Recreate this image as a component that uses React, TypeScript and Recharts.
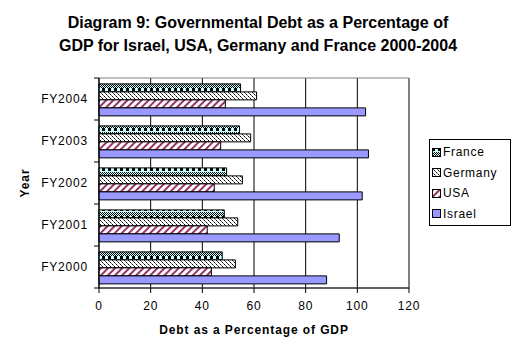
import React from "react";
import {
  Bar,
  BarChart,
  CartesianGrid,
  ReferenceArea,
  XAxis,
  YAxis,
} from "recharts";

const years = ["FY2000", "FY2001", "FY2002", "FY2003", "FY2004"];
const france = [47.7, 48.5, 49.4, 54.4, 54.8];
const germany = [52.8, 53.7, 55.5, 58.7, 61.0];
const usa = [43.5, 41.9, 44.6, 47.1, 48.9];
const israel = [88.1, 93.0, 101.9, 104.3, 103.2];
const xTicks = [0, 20, 40, 60, 80, 100, 120];

const series = [
  { key: "France", fill: "url(#patFrance)" },
  { key: "Germany", fill: "url(#patGermany)" },
  { key: "USA", fill: "url(#patUsa)" },
  { key: "Israel", fill: "#9999ff" },
];

const data = years.map((year, i) => ({
  year,
  France: france[i],
  Germany: germany[i],
  USA: usa[i],
  Israel: israel[i],
}));

const W = 519;
const H = 356;
const PLOT_TOP = 78;
const PLOT_BOTTOM = 288;
const PLOT_LEFT = 99;
const PLOT_RIGHT = 409;
const BAND = (PLOT_BOTTOM - PLOT_TOP) / years.length;
const FONT = "Arial, 'Liberation Sans', sans-serif";

function Patterns() {
  // rough copies of the old Excel fill patterns
  const fine = [];
  for (let r = 4; r < 8; r++) {
    for (let c = r % 2; c < 6; c += 2) {
      fine.push(<rect key={r + "-" + c} x={c} y={r} width={1} height={1} fill="#000" />);
    }
  }
  return (
    <svg width={0} height={0} style={{ position: "absolute" }}>
      <defs>
        <pattern id="patFrance" width={6} height={8} patternUnits="userSpaceOnUse">
          <rect width={6} height={8} fill="#ccffff" />
          <rect x={0} y={0} width={3} height={3} fill="#000" />
          {fine}
        </pattern>
        <pattern id="patGermany" width={4} height={4} patternUnits="userSpaceOnUse">
          <rect width={4} height={4} fill="#fff" />
          <rect x={0} y={0} width={1} height={1} fill="#000" />
          <rect x={2} y={2} width={1} height={1} fill="#000" />
          <rect x={1} y={1} width={1} height={1} fill="#666" />
          <rect x={3} y={3} width={1} height={1} fill="#666" />
        </pattern>
        <pattern
          id="patUsa"
          width={5}
          height={5}
          patternUnits="userSpaceOnUse"
          patternTransform="rotate(45)"
        >
          <rect width={5} height={5} fill="#fff" />
          <rect width={2} height={5} fill="#993366" />
        </pattern>
      </defs>
    </svg>
  );
}

function YearTick(props: any) {
  const { x, y, payload, index } = props;
  return (
    <g>
      <line x1={x - 5} x2={x} y1={y - BAND / 2} y2={y - BAND / 2} stroke="#000" />
      {index === 0 && (
        <line x1={x - 5} x2={x} y1={y + BAND / 2} y2={y + BAND / 2} stroke="#000" />
      )}
      <text
        x={x - 11}
        y={y}
        dy={4}
        textAnchor="end"
        fontSize={12}
        fontFamily={FONT}
        letterSpacing={0.8}
        fill="#000"
      >
        {payload.value}
      </text>
    </g>
  );
}

function Legend() {
  return (
    <div
      style={{
        position: "absolute",
        left: 429,
        top: 139,
        width: 80,
        height: 85,
        border: "1px solid #000",
        background: "#fff",
        fontFamily: FONT,
        fontSize: 12,
        letterSpacing: 0.7,
      }}
    >
      {series.map((s, i) => (
        <div
          key={s.key}
          style={{
            position: "absolute",
            left: 2,
            top: 5 + i * 20.5,
            height: 14,
            display: "flex",
            alignItems: "center",
          }}
        >
          <svg width={9} height={9} style={{ marginRight: 2 }}>
            <rect x={0.5} y={0.5} width={8} height={8} fill={s.fill} stroke="#000" />
          </svg>
          <span>{s.key}</span>
        </div>
      ))}
    </div>
  );
}

export default function App() {
  return (
    <div
      style={{
        position: "absolute",
        left: 0,
        top: 0,
        width: W,
        height: H,
        background: "#fff",
      }}
    >
      <Patterns />
      <div
        style={{
          position: "absolute",
          left: 0,
          top: 11,
          width: 516,
          textAlign: "center",
          fontFamily: FONT,
          fontWeight: "bold",
          fontSize: 16,
          lineHeight: "23px",
        }}
      >
        Diagram 9: Governmental Debt as a Percentage of
        <br />
        GDP for Israel, USA, Germany and France 2000-2004
      </div>
      <BarChart
        width={W}
        height={H}
        data={data}
        layout="vertical"
        margin={{
          top: PLOT_TOP,
          right: W - PLOT_RIGHT,
          bottom: H - PLOT_BOTTOM - 50,
          left: PLOT_LEFT - 80,
        }}
        barCategoryGap="14%"
        barGap={0}
      >
        <ReferenceArea x1={0} x2={120} fill="none" stroke="#808080" ifOverflow="visible" />
        <CartesianGrid horizontal={false} stroke="#000" />
        <XAxis
          type="number"
          domain={[0, 120]}
          ticks={xTicks}
          interval={0}
          height={50}
          tickSize={5}
          tickMargin={8}
          stroke="#000"
          tick={{ fontSize: 12, fontFamily: FONT, fill: "#000", letterSpacing: 0.8 }}
          label={{
            value: "Debt as a Percentage of GDP",
            position: "insideBottom",
            offset: 4,
            style: {
              fontSize: 12,
              fontWeight: "bold",
              fontFamily: FONT,
              fill: "#000",
              letterSpacing: 0.9,
            },
          }}
        />
        <YAxis
          type="category"
          dataKey="year"
          reversed
          width={80}
          tickSize={0}
          tickMargin={0}
          tickLine={false}
          stroke="#000"
          tick={<YearTick />}
          label={{
            value: "Year",
            angle: -90,
            position: "insideLeft",
            offset: 0,
            dx: 6,
            style: {
              fontSize: 12,
              fontWeight: "bold",
              fontFamily: FONT,
              fill: "#000",
              letterSpacing: 0.9,
              textAnchor: "middle",
            },
          }}
        />
        {series.map((s) => (
          <Bar
            key={s.key}
            dataKey={s.key}
            fill={s.fill}
            stroke="#000"
            strokeWidth={1}
            isAnimationActive={false}
          />
        ))}
      </BarChart>
      <Legend />
    </div>
  );
}
